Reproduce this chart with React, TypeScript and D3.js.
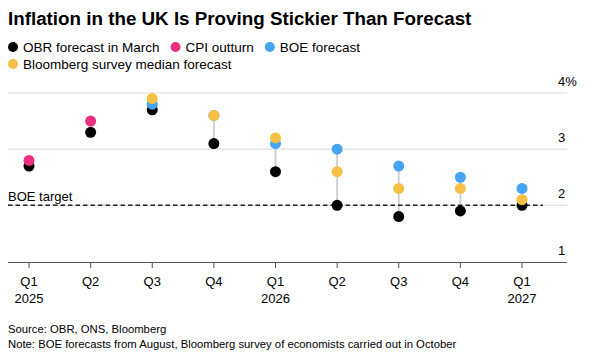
import React, { useEffect, useRef } from 'react';
import * as d3 from 'd3';

const quarters = ['Q1', 'Q2', 'Q3', 'Q4', 'Q1', 'Q2', 'Q3', 'Q4', 'Q1'];
const years = ['2025', '', '', '', '2026', '', '', '', '2027'];

// null where the series has no point
const obrForecast = [2.7, 3.3, 3.7, 3.1, 2.6, 2.0, 1.8, 1.9, 2.0];
const cpiOutturn = [2.8, 3.5, null, null, null, null, null, null, null];
const boeForecast = [null, null, 3.8, 3.6, 3.1, 3.0, 2.7, 2.5, 2.3];
const bloombergSurvey = [null, null, 3.9, 3.6, 3.2, 2.6, 2.3, 2.3, 2.1];

const yTicks = [1, 2, 3, 4];
const boeTarget = 2;

const colors = {
  obr: '#000000',
  cpi: '#ec2f7e',
  boe: '#46a4f5',
  bbg: '#f5c043',
};

const legendRows = [
  [
    { label: 'OBR forecast in March', color: colors.obr },
    { label: 'CPI outturn', color: colors.cpi },
    { label: 'BOE forecast', color: colors.boe },
  ],
  [{ label: 'Bloomberg survey median forecast', color: colors.bbg }],
];

const FONT = '"Liberation Sans", Arial, Helvetica, sans-serif';

const App: React.FC = () => {
  const svgRef = useRef<SVGSVGElement>(null);
  const width = 594;
  const height = 359;

  useEffect(() => {
    if (!svgRef.current) return;
    const svg = d3.select(svgRef.current);
    svg.selectAll('*').remove();
    svg.style('font-family', FONT);

    const plotLeft = 8;
    const plotRight = 567;

    const x = d3
      .scalePoint<number>()
      .domain(d3.range(quarters.length))
      .range([29, 522]);

    const y = d3.scaleLinear().domain([1, 4]).range([261.5, 93]);

    // Title
    svg
      .append('text')
      .attr('x', 8)
      .attr('y', 25)
      .style('font-size', '18.8px')
      .style('font-weight', 'bold')
      .style('fill', '#000')
      .text('Inflation in the UK Is Proving Stickier Than Forecast');

    // Legend
    legendRows.forEach((row, ri) => {
      let cx = 13;
      const cy = 47 + ri * 17;
      row.forEach((item) => {
        svg.append('circle').attr('cx', cx).attr('cy', cy).attr('r', 5).attr('fill', item.color);
        const t = svg
          .append('text')
          .attr('x', cx + 10)
          .attr('y', cy + 4.5)
          .style('font-size', '13.5px')
          .style('fill', '#000')
          .text(item.label);
        const w = (t.node() as SVGTextElement).getComputedTextLength();
        cx = cx + 10 + w + 16;
      });
    });

    // Gridlines and y labels
    const grid = svg.append('g');
    yTicks.forEach((v) => {
      if (v > 1) {
        grid
          .append('line')
          .attr('x1', plotLeft)
          .attr('x2', plotRight)
          .attr('y1', y(v))
          .attr('y2', y(v))
          .attr('stroke', '#dcdcdc')
          .attr('stroke-width', 1);
      }
      grid
        .append('text')
        .attr('x', 558)
        .attr('y', y(v) - 7)
        .style('font-size', '13px')
        .style('fill', '#000')
        .text(v === 4 ? `${v}%` : `${v}`);
    });

    // X axis
    svg
      .append('line')
      .attr('x1', plotLeft)
      .attr('x2', plotRight)
      .attr('y1', 262.5)
      .attr('y2', 262.5)
      .attr('stroke', '#555')
      .attr('stroke-width', 1);

    quarters.forEach((q, i) => {
      const xi = x(i) as number;
      svg
        .append('line')
        .attr('x1', xi)
        .attr('x2', xi)
        .attr('y1', 263)
        .attr('y2', 268)
        .attr('stroke', '#555')
        .attr('stroke-width', 1);
      svg
        .append('text')
        .attr('x', xi)
        .attr('y', 286)
        .attr('text-anchor', 'middle')
        .style('font-size', '13px')
        .style('fill', '#000')
        .text(q);
      if (years[i]) {
        svg
          .append('text')
          .attr('x', xi)
          .attr('y', 303)
          .attr('text-anchor', 'middle')
          .style('font-size', '13px')
          .style('fill', '#000')
          .text(years[i]);
      }
    });

    // Connectors from min to max per quarter
    quarters.forEach((_, i) => {
      const vals = [obrForecast[i], cpiOutturn[i], boeForecast[i], bloombergSurvey[i]].filter(
        (v) => v != null
      ) as number[];
      const [lo, hi] = d3.extent(vals) as [number, number];
      svg
        .append('line')
        .attr('x1', x(i) as number)
        .attr('x2', x(i) as number)
        .attr('y1', y(lo))
        .attr('y2', y(hi))
        .attr('stroke', '#d0d0d0')
        .attr('stroke-width', 2);
    });

    // BOE target
    svg
      .append('line')
      .attr('x1', plotLeft)
      .attr('x2', 543)
      .attr('y1', y(boeTarget))
      .attr('y2', y(boeTarget))
      .attr('stroke', '#222')
      .attr('stroke-width', 1.5)
      .attr('stroke-dasharray', '4.5,3');
    svg
      .append('text')
      .attr('x', 8)
      .attr('y', y(boeTarget) - 4)
      .style('font-size', '13px')
      .style('fill', '#000')
      .text('BOE target');

    // Dots
    const series: { values: (number | null)[]; color: string }[] = [
      { values: obrForecast, color: colors.obr },
      { values: boeForecast, color: colors.boe },
      { values: cpiOutturn, color: colors.cpi },
      { values: bloombergSurvey, color: colors.bbg },
    ];
    series.forEach((s) => {
      svg
        .append('g')
        .selectAll('circle')
        .data(s.values.map((v, i) => ({ v, i })).filter((d) => d.v != null))
        .enter()
        .append('circle')
        .attr('cx', (d) => x(d.i) as number)
        .attr('cy', (d) => y(d.v as number))
        .attr('r', 5.5)
        .attr('fill', s.color);
    });

    // Footer
    svg
      .append('text')
      .attr('x', 8)
      .attr('y', 333)
      .style('font-size', '11.3px')
      .style('fill', '#000')
      .text('Source: OBR, ONS, Bloomberg');
    svg
      .append('text')
      .attr('x', 8)
      .attr('y', 348)
      .style('font-size', '11.3px')
      .style('fill', '#000')
      .text('Note: BOE forecasts from August, Bloomberg survey of economists carried out in October');
  }, []);

  return (
    <svg
      ref={svgRef}
      width={width}
      height={height}
      style={{ display: 'block', position: 'absolute', left: 0, top: 0, background: '#fff' }}
    />
  );
};

export default App;
